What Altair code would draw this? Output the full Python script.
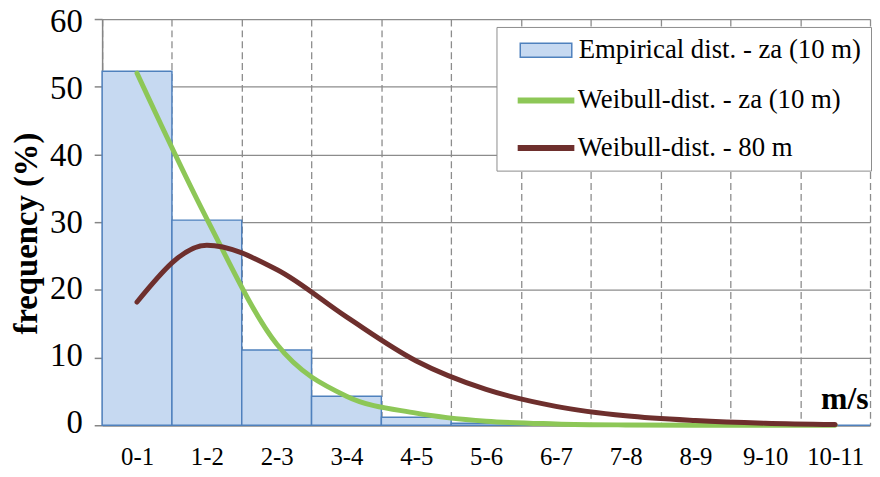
import altair as alt
import pandas as pd

cats = ["0-1", "1-2", "2-3", "3-4", "4-5", "5-6", "6-7", "7-8", "8-9", "9-10", "10-11"]
empirical = [52.3, 30.3, 11.1, 4.3, 1.2, 0.3, 0.1, 0.0, 0.0, 0.0, 0.0]
weibull_10 = [52.0, 30.5, 12.0, 4.3, 1.8, 0.6, 0.2, 0.05, 0.0, 0.0, 0.0]
weibull_80 = [18.2, 26.6, 23.0, 16.0, 9.5, 5.3, 2.8, 1.4, 0.7, 0.3, 0.1]

S0 = "Empirical dist. - za (10 m)"
S1 = "Weibull-dist. - za (10 m)"
S2 = "Weibull-dist. - 80 m"
bar_fill = "#C6D9F1"
bar_stroke = "#4F81BD"
line_colors = ["#8DC757", "#6E2F2D"]

bars = pd.DataFrame({"cat": cats, "value": empirical, "series": S0})
lines = pd.concat([
    pd.DataFrame({"cat": cats, "value": weibull_10, "series": S1}),
    pd.DataFrame({"cat": cats, "value": weibull_80, "series": S2}),
])

FONT = "Liberation Serif"

x = alt.X(
    "cat:N", sort=cats,
    scale=alt.Scale(paddingInner=0, paddingOuter=0),
    axis=alt.Axis(
        title="m/s", titleX=749, titleY=-17, titleAlign="center",
        titleBaseline="alphabetic", titleFont=FONT, titleFontSize=32,
        titleFontWeight="bold", titleColor="black",
        labelAngle=0, labelFont=FONT, labelFontSize=25, labelColor="black",
        labelPadding=20, ticks=False, tickBand="extent",
        domainColor="#868686", domainWidth=1.5,
        grid=True, gridColor="#8C8C8C", gridDash=[7, 4], gridWidth=1.3,
    ),
)
y = alt.Y(
    "value:Q",
    scale=alt.Scale(domain=[0, 60], nice=False),
    axis=alt.Axis(
        values=[0, 10, 20, 30, 40, 50, 60],
        title="frequency (%)", titleX=-76, titleY=216, titleAngle=-90,
        titleAlign="center", titleBaseline="middle",
        titleFont=FONT, titleFontSize=33, titleFontWeight="bold", titleColor="black",
        labelFont=FONT, labelFontSize=33, labelColor="black", labelPadding=12,
        labelOffset={"expr": "(datum.value - 30) / 10"},
        tickSize=8, tickColor="#868686", tickWidth=1.5,
        domainColor="#868686", domainWidth=1.5,
        grid=True, gridColor="#8C8C8C", gridWidth=1.3,
    ),
)

rect_path = "M-2,-0.54H2V0.54H-2Z"
line_path = "M-2.2,0H2.2"

LX, LY = 398, 8
PITCH = 48.7
common = dict(
    orient="none", legendX=LX, padding=9.5,
    labelFont=FONT, labelFontSize=27, labelColor="black", labelLimit=0,
    symbolSize=676, rowPadding=19, symbolOpacity=1,
)

legend_bar = alt.Legend(
    title="\u00a0", titleOrient="bottom", titleFont=FONT, titleFontSize=26.5,
    titlePadding=72, titleColor="white",
    fillColor="white", strokeColor="#8C8C8C",
    legendY=LY, symbolType=rect_path, symbolStrokeColor=bar_stroke,
    symbolStrokeWidth=1.5, symbolOffset=26.5, labelOffset=19, zindex=1, **common,
)
legend_lines = alt.Legend(
    title=None, legendY=LY + PITCH,
    symbolType=line_path, symbolStrokeWidth=6, symbolOffset=24.5, labelOffset=16,
    zindex=2, **common,
)

bar_layer = alt.Chart(bars).mark_bar(stroke=bar_stroke, strokeWidth=1.5, opacity=1).encode(
    x=x, y=y,
    fill=alt.Fill("series:N", scale=alt.Scale(domain=[S0], range=[bar_fill]), legend=legend_bar),
)
line_layer = alt.Chart(lines).mark_line(strokeWidth=5, interpolate="monotone", strokeCap="round").encode(
    x=x, y=y,
    stroke=alt.Stroke("series:N", scale=alt.Scale(domain=[S1, S2], range=line_colors), legend=legend_lines),
)

chart = alt.layer(bar_layer, line_layer).properties(
    width=775, height=410,
    autosize=alt.AutoSizeParams(type="none"),
    padding={"left": 95, "top": 9, "right": 2, "bottom": 42},
    title=alt.TitleParams(
        text="Verynyi Berényi", font=FONT, fontSize=32, fontWeight="bold",
        color="black", anchor="middle", offset=-2, dx=-10,
    ),
).configure_view(stroke=None)

chart.save("out.html", embed_options={"renderer": "svg", "actions": False})
